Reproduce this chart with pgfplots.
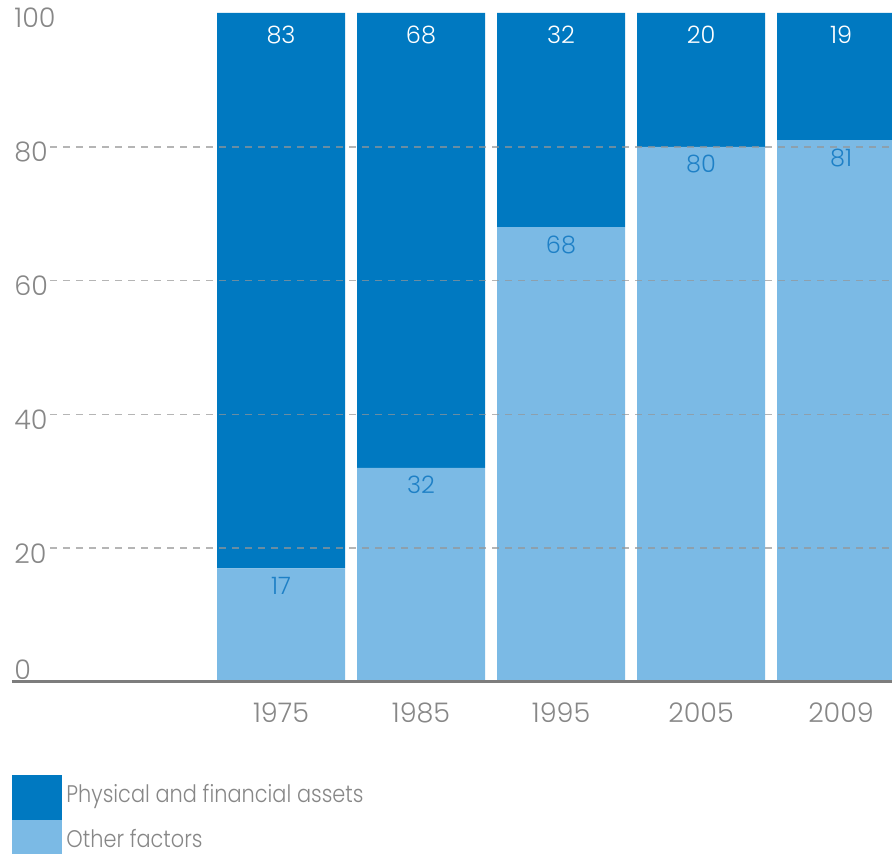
\documentclass[border=0pt]{standalone}
\usepackage{pgfplots}
\usepackage{pgfplotstable}
\pgfplotsset{compat=1.18}
\usepackage{fontspec}
\IfFontExistsTF{Poppins Light}{\setmainfont{Poppins Light}}{\setmainfont{Poppins}}
\IfFontExistsTF{Poppins Light}{\newfontfamily\legfontl{Poppins Light}[FakeStretch=0.87]}{\newfontfamily\legfontl{Poppins}[FakeStretch=0.87]}
\definecolor{darkb}{RGB}{0,121,193}
\definecolor{lightb}{RGB}{123,186,229}
\definecolor{lbtxt}{RGB}{30,128,198}
\definecolor{txt}{RGB}{135,135,135}
\definecolor{gridc}{RGB}{150,150,150}
\definecolor{axc}{RGB}{125,125,125}
\pgfplotstableread{
x other phys top
0 17 83 100
1 32 68 100
2 68 32 100
3 80 20 100
4 81 19 100
}\datatab
\begin{document}
\begin{tikzpicture}
\path[use as bounding box] (-25pt,-86pt) rectangle (421pt,341pt);
\begin{axis}[
  at={(0,0)}, anchor=south west,
  scale only axis, width=421pt, height=334.5pt,
  ybar stacked, bar width=64pt,
  xmin=-1.65, xmax=4.364, ymin=0, ymax=100,
  axis x line*=bottom, axis y line*=left,
  x axis line style={-, draw=axc, line width=1.5pt, shorten <=-19pt},
  y axis line style={draw=none},
  major tick length=0pt,
  xtick={0,1,2,3,4},
  xticklabels={1975,1985,1995,2005,2009},
  xticklabel style={anchor=base, inner sep=0pt, yshift=-20.5pt, text=txt, font=\fontsize{13.5}{15}\selectfont},
  ytick={0,20,40,60,80},
  yticklabels={{\raisebox{8.5pt}{0}},20,40,60,80},
  extra y ticks={100},
  extra y tick labels={100},
  extra y tick style={grid=none},
  yticklabel style={anchor=base west, inner sep=0pt, xshift=-18pt, yshift=-7.5pt, text=txt, font=\fontsize{13.5}{15}\selectfont},
  ymajorgrids,
  major grid style={draw=gridc, opacity=0.7, line width=0.8pt, dash pattern=on 3.5pt off 3pt},
  axis on top,
  legend style={at={(rel axis cs:-0.0451,-0.139)}, anchor=north west, draw=none, fill=none, inner sep=0pt, font=\legfontl\fontsize{12}{14}\selectfont, text=txt,
    cells={anchor=west}, row sep=0pt,
    /tikz/every odd column/.append style={yshift=-1.25pt}},
  reverse legend,
]
\addplot+[fill=lightb, draw=none,
  legend image code/.code={\path (0pt,-11.25pt) rectangle (25pt,11.25pt); \fill[lightb] (0pt,-9.25pt) rectangle (18pt,9.25pt);}]
  table[x=x, y=other] {\datatab};
\addlegendentry{Other factors}
\addplot+[fill=darkb, draw=none,
  legend image code/.code={\path (0pt,-11.25pt) rectangle (25pt,11.25pt); \fill[darkb] (0pt,-9.25pt) rectangle (18pt,9.25pt);}]
  table[x=x, y=phys] {\datatab};
\addlegendentry{Physical and financial assets}
\end{axis}
\begin{axis}[
  at={(0,0)}, anchor=south west,
  scale only axis, width=421pt, height=334.5pt,
  xmin=-1.65, xmax=4.364, ymin=0, ymax=100,
  hide axis,
  /pgf/number format/assume math mode=true,
  point meta=explicit,
  nodes near coords,
  nodes near coords style={font=\fontsize{12}{14}\selectfont, inner sep=0pt},
]
\addplot[draw=none, nodes near coords,
  every node near coord/.append style={anchor=base, yshift=-13pt, text=lbtxt}]
  table[x=x, y=other, meta=other] {\datatab};
\addplot[draw=none, nodes near coords,
  every node near coord/.append style={anchor=base, yshift=-15.5pt, text=white}]
  table[x=x, y=top, meta=phys] {\datatab};
\end{axis}
\end{tikzpicture}
\end{document}
